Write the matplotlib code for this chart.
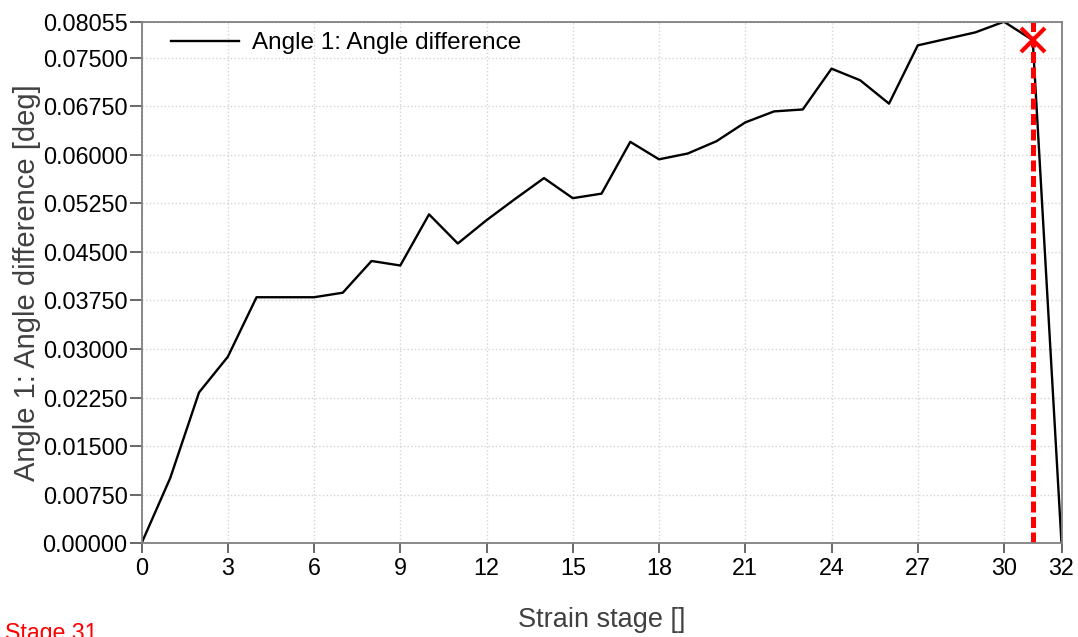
import numpy as np
import matplotlib.pyplot as plt

plt.rcParams['font.family'] = ['Liberation Sans', 'DejaVu Sans']

stages = list(range(33))
angleDiff = [0.0, 0.0101, 0.0233, 0.0288, 0.0380, 0.0380, 0.0380, 0.0387,
             0.0436, 0.0429, 0.0508, 0.0463, 0.0499, 0.0532, 0.0564, 0.0533,
             0.0540, 0.0620, 0.0593, 0.0602, 0.0621, 0.0650, 0.0667, 0.0670,
             0.0733, 0.0715, 0.0679, 0.0769, 0.0779, 0.0789, 0.08055, 0.0777,
             0.0]
selStage = 31
xTicks = [0, 3, 6, 9, 12, 15, 18, 21, 24, 27, 30, 32]
yTicks = [0.0, 0.0075, 0.015, 0.0225, 0.03, 0.0375, 0.045, 0.0525, 0.06,
          0.0675, 0.075, 0.08055]

fig = plt.figure(figsize=(10.78, 6.37), dpi=100)
ax = fig.add_axes([0.1313, 0.1471, 0.8534, 0.8188])

ax.plot(stages, angleDiff, color='black', lw=1.7, label='Angle 1: Angle difference')
ax.axvline(selStage, color='red', lw=3.6, dashes=(2.2, 0.9))
ax.plot(selStage, angleDiff[selStage], marker='x', color='red', ms=17, mew=3)

ax.set_xlim(0, 32)
ax.set_ylim(0, max(angleDiff))
ax.set_xticks(xTicks)
ax.set_yticks(yTicks)
ax.set_yticklabels(['%.5f' % v for v in yTicks])

ax.grid(True, color='#d4d4d4', ls=':', lw=1)
for s in ax.spines.values():
    s.set_color('#808080')
    s.set_linewidth(1.3)
ax.tick_params(axis='x', length=7, width=1.1, color='#404040', labelsize=16.8, pad=3)
ax.tick_params(axis='y', length=9, width=1.1, color='#404040', labelsize=16.8, pad=1)

ax.set_xlabel('Strain stage []', fontsize=19.5, color='#404040', labelpad=19)
ax.set_ylabel('Angle 1: Angle difference [deg]', fontsize=21, color='#404040', labelpad=1)

ax.legend(loc='upper left', frameon=False, fontsize=17.5, handlelength=2.8,
          handletextpad=0.55, borderaxespad=0.2, bbox_to_anchor=(0.016, 1.008))

fig.text(0.005, -0.005, 'Stage 31', color='red', fontsize=16.7, va='baseline')

plt.savefig('out.png', dpi=100)
